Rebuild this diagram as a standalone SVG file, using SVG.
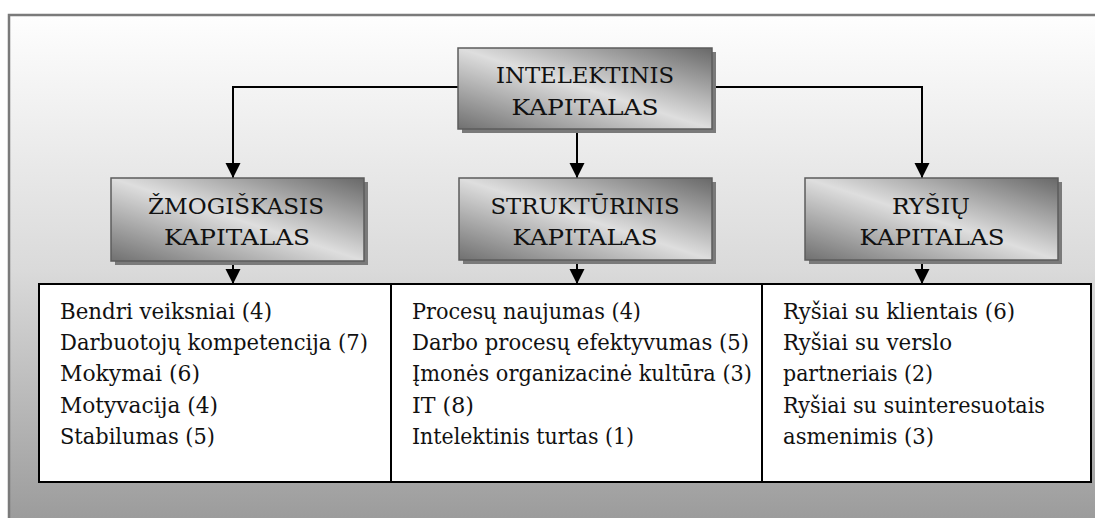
<svg xmlns="http://www.w3.org/2000/svg" width="1095" height="518" viewBox="0 0 1095 518">
  <style>
    text { font-family: 'DejaVu Serif', 'Liberation Serif', serif; font-size: 23px; fill: #111; }
    .mid { text-anchor: middle; }
    .box { fill: url(#nodeFill); stroke: #5c5c5c; stroke-width: 1.5; }
    .shadow { fill: #7a7a7a; }
    .cell { fill: #ffffff; stroke: #000; stroke-width: 2; }
    .wire { fill: none; stroke: #000; stroke-width: 2; marker-end: url(#arrow); }
  </style>
  <defs>
    <linearGradient id="bgFill" x1="0" y1="0" x2="0" y2="1">
      <stop offset="0" stop-color="#fefefe"/>
      <stop offset="0.5" stop-color="#dadada"/>
      <stop offset="1" stop-color="#9a9a9a"/>
    </linearGradient>
    <linearGradient id="nodeFill" x1="0" y1="1" x2="1" y2="0">
      <stop offset="0" stop-color="#707070"/>
      <stop offset="0.5" stop-color="#dedede"/>
      <stop offset="1" stop-color="#686868"/>
    </linearGradient>
    <marker id="arrow" markerUnits="userSpaceOnUse" markerWidth="16" markerHeight="16" refX="15" refY="7.5" orient="auto">
      <path d="M0,0 L15,7.5 L0,15 z" fill="#000"/>
    </marker>
  </defs>

  <!-- background panel -->
  <rect x="0" y="0" width="1095" height="518" fill="#ffffff"/>
  <rect x="9" y="15" width="1100" height="510" fill="url(#bgFill)" stroke="#7a7a7a" stroke-width="2.5"/>

  <!-- connectors -->
  <g id="connectors">
    <path class="wire" d="M458,87 H233 V178"/>
    <path class="wire" d="M712,87 H922 V178"/>
    <path class="wire" d="M577,129 V178"/>
    <path class="wire" d="M233,261 V284"/>
    <path class="wire" d="M577,260 V284"/>
    <path class="wire" d="M922,260 V284"/>
  </g>

  <!-- root node -->
  <g id="node-intelektinis">
    <rect class="shadow" x="462" y="52" width="254" height="81"/>
    <rect class="box" x="458" y="48" width="254" height="81"/>
    <text class="mid" x="585" y="83" textLength="178" lengthAdjust="spacingAndGlyphs">INTELEKTINIS</text>
    <text class="mid" x="585" y="115" textLength="147" lengthAdjust="spacingAndGlyphs">KAPITALAS</text>
  </g>

  <!-- second-level nodes -->
  <g id="node-zmogiskasis">
    <rect class="shadow" x="115" y="182" width="253" height="83"/>
    <rect class="box" x="111" y="178" width="253" height="83"/>
    <text class="mid" x="236" y="214" textLength="176" lengthAdjust="spacingAndGlyphs">ŽMOGIŠKASIS</text>
    <text class="mid" x="237" y="245" textLength="146" lengthAdjust="spacingAndGlyphs">KAPITALAS</text>
  </g>
  <g id="node-strukturinis">
    <rect class="shadow" x="463" y="182" width="253" height="82"/>
    <rect class="box" x="459" y="178" width="253" height="82"/>
    <text class="mid" x="585" y="214" textLength="189" lengthAdjust="spacingAndGlyphs">STRUKTŪRINIS</text>
    <text class="mid" x="585" y="245" textLength="145" lengthAdjust="spacingAndGlyphs">KAPITALAS</text>
  </g>
  <g id="node-rysiu">
    <rect class="shadow" x="809" y="182" width="253" height="82"/>
    <rect class="box" x="805" y="178" width="253" height="82"/>
    <text class="mid" x="931" y="214" textLength="78" lengthAdjust="spacingAndGlyphs">RYŠIŲ</text>
    <text class="mid" x="932" y="245" textLength="145" lengthAdjust="spacingAndGlyphs">KAPITALAS</text>
  </g>

  <!-- component lists -->
  <g id="list-zmogiskasis">
    <rect class="cell" x="39" y="284" width="352" height="198"/>
    <text x="60" y="319" textLength="212" lengthAdjust="spacingAndGlyphs">Bendri veiksniai (4)</text>
    <text x="60" y="350" textLength="308" lengthAdjust="spacingAndGlyphs">Darbuotojų kompetencija (7)</text>
    <text x="60" y="381" textLength="140" lengthAdjust="spacingAndGlyphs">Mokymai (6)</text>
    <text x="60" y="413" textLength="158" lengthAdjust="spacingAndGlyphs">Motyvacija (4)</text>
    <text x="60" y="444" textLength="155" lengthAdjust="spacingAndGlyphs">Stabilumas (5)</text>
  </g>
  <g id="list-strukturinis">
    <rect class="cell" x="391" y="284" width="371" height="198"/>
    <text x="412" y="319" textLength="229" lengthAdjust="spacingAndGlyphs">Procesų naujumas (4)</text>
    <text x="412" y="350" textLength="337" lengthAdjust="spacingAndGlyphs">Darbo procesų efektyvumas (5)</text>
    <text x="412" y="381" textLength="340" lengthAdjust="spacingAndGlyphs">Įmonės organizacinė kultūra (3)</text>
    <text x="412" y="413" textLength="62" lengthAdjust="spacingAndGlyphs">IT (8)</text>
    <text x="412" y="444" textLength="222" lengthAdjust="spacingAndGlyphs">Intelektinis turtas (1)</text>
  </g>
  <g id="list-rysiu">
    <rect class="cell" x="762" y="284" width="329" height="198"/>
    <text x="783" y="319" textLength="232" lengthAdjust="spacingAndGlyphs">Ryšiai su klientais (6)</text>
    <text x="783" y="350" textLength="169" lengthAdjust="spacingAndGlyphs">Ryšiai su verslo</text>
    <text x="783" y="381" textLength="150" lengthAdjust="spacingAndGlyphs">partneriais (2)</text>
    <text x="783" y="413" textLength="262" lengthAdjust="spacingAndGlyphs">Ryšiai su suinteresuotais</text>
    <text x="783" y="444" textLength="151" lengthAdjust="spacingAndGlyphs">asmenimis (3)</text>
  </g>
</svg>
